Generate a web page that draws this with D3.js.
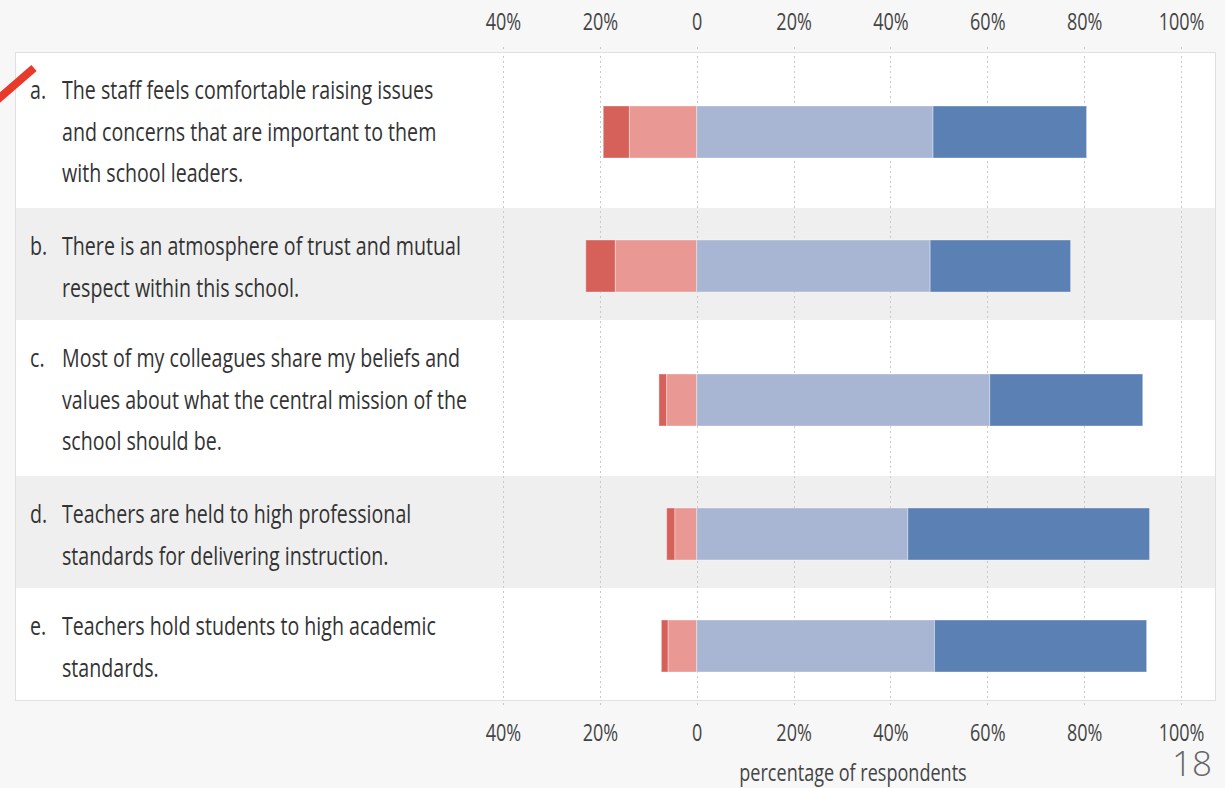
<!DOCTYPE html>
<html>
<head>
<meta charset="utf-8">
<script src="https://cdn.jsdelivr.net/npm/d3@7"></script>
<style>
  html, body { margin: 0; padding: 0; background: #f7f7f7; }
  svg { display: block; font-family: "Open Sans", sans-serif; }
</style>
</head>
<body>
<div id="chart"></div>
<script>
// survey items, one entry per row
const letters = ["a.", "b.", "c.", "d.", "e."];
const labelLines = [
    ["The staff feels comfortable raising issues", "and concerns that are important to them", "with school leaders."],
    ["There is an atmosphere of trust and mutual", "respect within this school."],
    ["Most of my colleagues share my beliefs and", "values about what the central mission of the", "school should be."],
    ["Teachers are held to high professional", "standards for delivering instruction."],
    ["Teachers hold students to high academic", "standards."]
];

// percentages of respondents
const stronglyDisagree = [5.4, 6.1, 1.6, 1.7, 1.4];
const disagree = [13.9, 16.8, 6.2, 4.5, 5.9];
const agree = [48.8, 48.2, 60.5, 43.6, 49.1];
const stronglyAgree = [31.7, 29.0, 31.6, 49.9, 43.8];

const tickValues = [-40, -20, 0, 20, 40, 60, 80, 100];
const axisTitle = "percentage of respondents";
const pageNumber = "18";

const W = 1225, H = 788;
const panel = { left: 15, right: 1215, top: 52 };
const condense = 0.785;    // squeeze text to mimic the condensed face
const condenseTick = 0.75;

const svg = d3.select("#chart").append("svg")
    .attr("width", W)
    .attr("height", H);

const x = d3.scaleLinear().domain([-40, 100]).range([503, 1181]);

// row layout: height grows with the number of label lines
const rows = [];
let yCursor = panel.top;
labelLines.forEach((lines, i) => {
    const h = 24 + 44 * lines.length;
    rows.push({ i, top: yCursor, h, lines });
    yCursor += h;
});
const panelBottom = yCursor;

// panel background
svg.append("rect")
    .attr("x", panel.left + 0.5).attr("y", panel.top + 0.5)
    .attr("width", panel.right - panel.left).attr("height", panelBottom - panel.top)
    .attr("fill", "#fff").attr("stroke", "#e0e0e0");

svg.selectAll(".stripe").data(rows.filter(r => r.i % 2 === 1))
    .enter().append("rect")
    .attr("class", "stripe")
    .attr("x", panel.left + 1).attr("y", d => d.top)
    .attr("width", panel.right - panel.left - 1).attr("height", d => d.h)
    .attr("fill", "#efefef");

// dotted gridlines
svg.selectAll(".grid").data(tickValues)
    .enter().append("line")
    .attr("class", "grid")
    .attr("x1", d => Math.round(x(d)) + 0.5).attr("x2", d => Math.round(x(d)) + 0.5)
    .attr("y1", panel.top + 4).attr("y2", panelBottom - 2)
    .attr("stroke", "#c8c8c8").attr("stroke-width", 1)
    .attr("stroke-dasharray", "2,3");

// axes top and bottom
const fmt = d => d === 0 ? "0" : Math.abs(d) + "%";
function drawAxis(g) {
    g.call(d3.axisTop(x).tickValues(tickValues).tickFormat(fmt).tickSize(0));
    g.select(".domain").remove();
}
const topAxis = svg.append("g").attr("transform", `translate(0,30)`).call(drawAxis);
const bottomAxis = svg.append("g").attr("transform", `translate(0,741)`).call(drawAxis);

[topAxis, bottomAxis].forEach(g => {
    g.selectAll(".tick text")
        .attr("y", 0).attr("dy", 0)
        .attr("transform", `scale(${condenseTick},1)`)
        .attr("x", 0)
        .style("font-family", "Open Sans")
        .style("font-size", "24px")
        .attr("fill", "#444");
});

// tiny tick marks just outside the panel
[panel.top - 5, panelBottom + 3].forEach(yy => {
    svg.selectAll(null).data(tickValues).enter().append("line")
        .attr("x1", d => Math.round(x(d)) + 0.5).attr("x2", d => Math.round(x(d)) + 0.5)
        .attr("y1", yy).attr("y2", yy + 2)
        .attr("stroke", "#c8c8c8");
});

// stacked diverging bars
const segments = [];
rows.forEach(r => {
    const i = r.i;
    const sd = stronglyDisagree[i], di = disagree[i], ag = agree[i], sa = stronglyAgree[i];
    segments.push({ row: r, x0: -(sd + di), x1: -di, color: "#d6615a" });
    segments.push({ row: r, x0: -di, x1: 0, color: "#e99893" });
    segments.push({ row: r, x0: 0, x1: ag, color: "#a8b6d3" });
    segments.push({ row: r, x0: ag, x1: ag + sa, color: "#5b80b4" });
});

const barH = 52;
svg.selectAll(".seg").data(segments)
    .enter().append("rect")
    .attr("class", "seg")
    .attr("x", d => x(d.x0))
    .attr("width", d => x(d.x1) - x(d.x0))
    .attr("y", d => d.row.top + d.row.h / 2 + 2 - barH / 2)
    .attr("height", barH)
    .attr("fill", d => d.color)
    .attr("stroke", "rgba(255,255,255,0.35)")
    .attr("stroke-width", 1);

// row labels
const labelG = svg.selectAll(".label").data(rows)
    .enter().append("g")
    .attr("class", "label");

labelG.append("text")
    .attr("transform", d => `translate(30,${d.top + 47}) scale(${condense},1)`)
    .style("font-size", "25px")
    .attr("fill", "#333")
    .text(d => letters[d.i]);

labelG.each(function (d) {
    d3.select(this).selectAll(".line").data(d.lines)
        .enter().append("text")
        .attr("class", "line")
        .attr("transform", (t, k) => `translate(62,${d.top + 47 + k * 41.5}) scale(${condense},1)`)
        .style("font-size", "25px")
        .attr("fill", "#333")
        .text(t => t);
});

// axis title
svg.append("text")
    .attr("transform", `translate(853,781) scale(${condense},1)`)
    .attr("text-anchor", "middle")
    .style("font-size", "23px")
    .attr("fill", "#444")
    .text(axisTitle);

// page number
svg.append("text")
    .attr("x", 1212).attr("y", 776)
    .attr("text-anchor", "end")
    .style("font-size", "35px")
    .style("font-weight", 300)
    .attr("fill", "#666")
    .text(pageNumber);

// red pen mark in the corner
svg.append("line")
    .attr("x1", -4).attr("y1", 101)
    .attr("x2", 34).attr("y2", 68)
    .attr("stroke", "#e8392b")
    .attr("stroke-width", 8);
</script>
</body>
</html>
